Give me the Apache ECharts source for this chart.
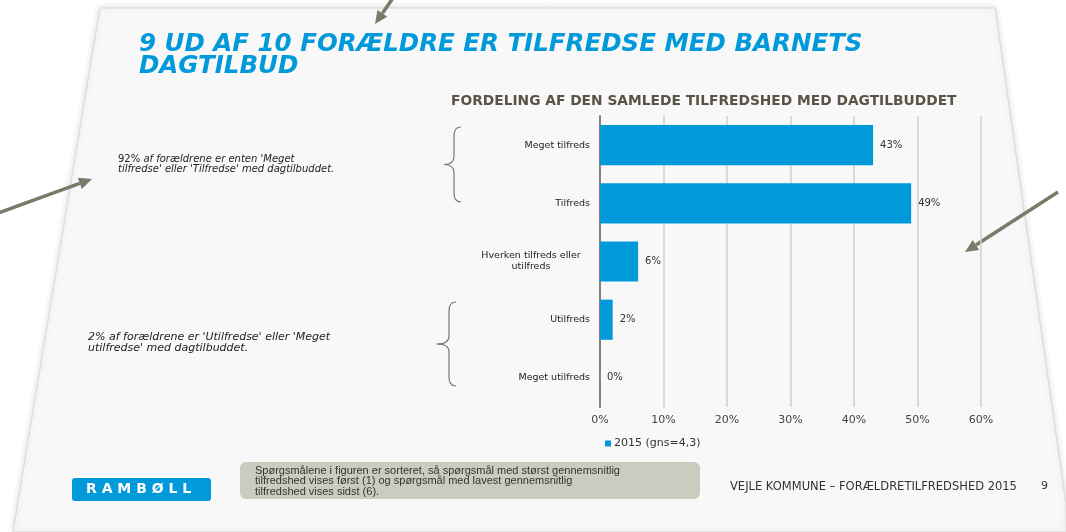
<!DOCTYPE html>
<html>
<head>
<meta charset="utf-8">
<title>Forældretilfredshed 2015</title>
<script src="https://cdn.jsdelivr.net/npm/echarts@6/dist/echarts.min.js"></script>
<style>
  html, body { margin: 0; padding: 0; background: #fff; }
  #chart { width: 1066px; height: 532px; }
</style>
</head>
<body>
<div id="chart"></div>
<script>
'use strict';

// data
var categories = ['Meget tilfreds', 'Tilfreds', 'Hverken tilfreds eller\nutilfreds', 'Utilfreds', 'Meget utilfreds'];
var shares = [43, 49, 6, 2, 0];
var seriesName = '2015 (gns=4,3)';
var axisTicks = [0, 10, 20, 30, 40, 50, 60];

var blue = '#0099da';
var arrowColor = '#7a7a68';
var font = 'DejaVu Sans';

function arrow(x1, y1, x2, y2) {
    // line plus a small triangle head at (x2, y2)
    var a = Math.atan2(y2 - y1, x2 - x1);
    var len = 13, w = 6;
    var bx = x2 - len * Math.cos(a), by = y2 - len * Math.sin(a);
    var px = -Math.sin(a) * w, py = Math.cos(a) * w;
    return [{
        type: 'line',
        shape: { x1: x1, y1: y1, x2: bx, y2: by },
        style: { stroke: arrowColor, lineWidth: 3.5 }
    }, {
        type: 'polygon',
        shape: { points: [[x2, y2], [bx + px, by + py], [bx - px, by - py]] },
        style: { fill: arrowColor }
    }];
}

function brace(x, top, bottom, tipX) {
    var mid = (top + bottom) / 2;
    var st = { stroke: '#777', lineWidth: 1.2, fill: null };
    var inner = x - 7;
    return [
        { type: 'bezierCurve', shape: { x1: x, y1: top, x2: inner, y2: top + 9, cpx1: inner, cpy1: top }, style: st },
        { type: 'line', shape: { x1: inner, y1: top + 9, x2: inner, y2: mid - 8 }, style: st },
        { type: 'bezierCurve', shape: { x1: inner, y1: mid - 8, x2: tipX, y2: mid, cpx1: inner, cpy1: mid }, style: st },
        { type: 'bezierCurve', shape: { x1: tipX, y1: mid, x2: inner, y2: mid + 8, cpx1: inner, cpy1: mid }, style: st },
        { type: 'line', shape: { x1: inner, y1: mid + 8, x2: inner, y2: bottom - 9 }, style: st },
        { type: 'bezierCurve', shape: { x1: inner, y1: bottom - 9, x2: x, y2: bottom, cpx1: inner, cpy1: bottom }, style: st }
    ];
}

var graphics = [{
    type: 'polygon',
    z: -10,
    shape: { points: [[100, 8], [995, 8], [1066, 505], [1066, 532], [13, 532]] },
    style: { fill: '#f8f8f8', stroke: '#d8d8d8', lineWidth: 1, shadowBlur: 6, shadowColor: 'rgba(0,0,0,0.15)' }
}, {
    type: 'text',
    left: 139, top: 32,
    style: {
        text: '9 UD AF 10 FORÆLDRE ER TILFREDSE MED BARNETS\nDAGTILBUD',
        font: 'italic bold 24.5px "' + font + '"',
        fill: blue, lineHeight: 22
    }
}, {
    type: 'text',
    left: 118, top: 154,
    style: {
        text: '{n|92%} af forældrene er enten \'Meget\ntilfredse\' eller \'Tilfredse\' med dagtilbuddet.',
        font: 'italic 10px "' + font + '"',
        fill: '#222', lineHeight: 10,
        rich: { n: { fontStyle: 'normal', fontSize: 10, fontFamily: font, fill: '#222' } }
    }
}, {
    type: 'text',
    left: 88, top: 332,
    style: {
        text: '2% af forældrene er \'Utilfredse\' eller \'Meget\nutilfredse\' med dagtilbuddet.',
        font: 'italic 11px "' + font + '"',
        fill: '#222', lineHeight: 11
    }
}, {
    type: 'rect',
    shape: { x: 72, y: 478, width: 139, height: 23, r: 3 },
    style: { fill: blue }
}, {
    type: 'text',
    left: 86, top: 482,
    style: { text: 'R A M B Ø L L', font: 'bold 14px "' + font + '"', fill: '#fff' }
}, {
    type: 'rect',
    shape: { x: 240, y: 462, width: 460, height: 37, r: 6 },
    style: { fill: '#cbcbc0' }
}, {
    type: 'text',
    left: 255, top: 465,
    style: {
        text: 'Spørgsmålene i figuren er sorteret, så spørgsmål med størst gennemsnitlig\ntilfredshed vises først (1) og spørgsmål med lavest gennemsnitlig\ntilfredshed vises sidst (6).',
        font: '11px "Liberation Sans"', fill: '#333', lineHeight: 10.5
    }
}, {
    type: 'text',
    left: 730, top: 481,
    style: { text: 'VEJLE KOMMUNE – FORÆLDRETILFREDSHED 2015', font: '11.5px "' + font + '"', fill: '#333' }
}, {
    type: 'text',
    left: 1041, top: 481,
    style: { text: '9', font: '11px "' + font + '"', fill: '#333' }
}];

graphics = graphics
    .concat(brace(461, 127, 202, 444))
    .concat(brace(456, 302, 386, 437))
    .concat(arrow(393, -2, 375, 24))
    .concat(arrow(-2, 213, 92, 179))
    .concat(arrow(1058, 192, 965, 252));

var option = {
    backgroundColor: '#ffffff',
    animation: false,
    textStyle: { fontFamily: font },
    title: {
        text: 'FORDELING AF DEN SAMLEDE TILFREDSHED MED DAGTILBUDDET',
        left: 446, top: 89,
        textStyle: { fontSize: 13.8, fontWeight: 'bold', color: '#5a5446', fontFamily: font }
    },
    legend: {
        left: 600, top: 433,
        icon: 'rect', itemWidth: 6, itemHeight: 6, itemGap: 4,
        textStyle: { fontSize: 11, color: '#333', padding: [0, 0, 0, -2] },
        data: [seriesName]
    },
    grid: { left: 600, right: 85, top: 116, bottom: 125 },
    xAxis: {
        type: 'value',
        min: axisTicks[0], max: axisTicks[axisTicks.length - 1], interval: 10,
        axisLine: { show: false },
        axisTick: { show: false },
        splitLine: { lineStyle: { color: '#d2d2ca', width: 1.5 } },
        axisLabel: { formatter: '{value}%', fontSize: 11, color: '#444', margin: 8 }
    },
    yAxis: {
        type: 'category',
        inverse: true,
        data: categories,
        axisLine: { lineStyle: { color: '#8b8373', width: 2 } },
        axisTick: { show: false },
        axisLabel: {
            fontSize: 9.5, color: '#222', margin: 10,
            formatter: function(v) {
                if (v.indexOf('\n') < 0) return v;
                return v.split('\n').map(function(s) { return '{c|' + s + '}'; }).join('\n');
            },
            rich: { c: { width: 118, align: 'center', fontSize: 9.5, color: '#222', lineHeight: 11 } }
        }
    },
    series: [{
        name: seriesName,
        type: 'bar',
        data: shares,
        barCategoryGap: '31%',
        itemStyle: { color: blue },
        label: {
            show: true, position: 'right', distance: 7,
            formatter: '{c}%', fontSize: 10, color: '#333'
        }
    }],
    graphic: graphics
};

var myChart = echarts.init(document.getElementById('chart'));
myChart.setOption(option);
</script>
</body>
</html>
